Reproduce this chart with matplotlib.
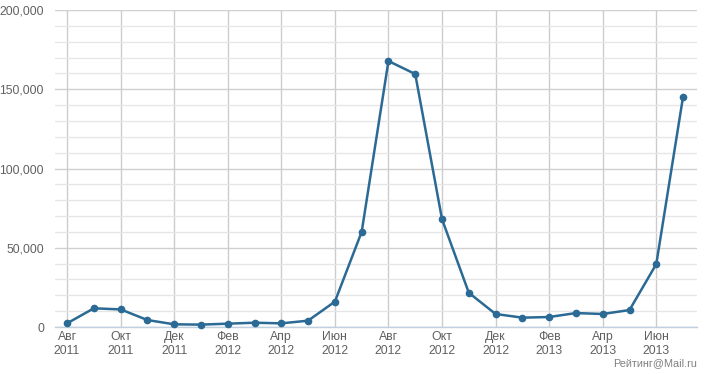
import matplotlib
matplotlib.use("Agg")
import matplotlib.pyplot as plt
from matplotlib.ticker import MultipleLocator, FuncFormatter

plt.rcParams['font.family'] = ['Liberation Sans', 'DejaVu Sans']

months = ["Авг\n2011", "Сен\n2011", "Окт\n2011", "Ноя\n2011", "Дек\n2011", "Янв\n2012",
          "Фев\n2012", "Мар\n2012", "Апр\n2012", "Май\n2012", "Июн\n2012", "Июл\n2012",
          "Авг\n2012", "Сен\n2012", "Окт\n2012", "Ноя\n2012", "Дек\n2012", "Янв\n2013",
          "Фев\n2013", "Мар\n2013", "Апр\n2013", "Май\n2013", "Июн\n2013", "Июл\n2013"]
values = [2300, 11800, 11100, 4400, 1700, 1500, 2100, 2700, 2300, 4000, 16000, 60000,
          167800, 159600, 68000, 21600, 8200, 5900, 6300, 8800, 8200, 10700, 39700, 145300]
watermark = "Рейтинг@Mail.ru"

W, H = 721, 374
fig = plt.figure(figsize=(W/100, H/100), dpi=100)
l, r, t, b = 55, 697, 10, 327
ax = fig.add_axes([l/W, 1-b/H, (r-l)/W, (b-t)/H])

x = list(range(len(values)))
ax.set_xlim(-0.45, 23.52)
ax.set_ylim(0, 200000)

ax.yaxis.set_major_locator(MultipleLocator(50000))
ax.yaxis.set_minor_locator(MultipleLocator(10000))
ax.yaxis.set_major_formatter(FuncFormatter(lambda v, p: f"{int(v):,}"))
ax.set_xticks(x[::2])
ax.set_xticklabels(months[::2])

ax.grid(True, which="minor", axis="y", color="#e6e6e6", lw=1)
ax.grid(True, which="major", axis="y", color="#d0d0d0", lw=1)
ax.grid(True, which="major", axis="x", color="#cccccc", lw=1)
ax.set_axisbelow(True)

for s in ["top", "right", "left"]:
    ax.spines[s].set_visible(False)
ax.spines["bottom"].set_color("#c0d0e0")
ax.spines["bottom"].set_linewidth(1)

ax.tick_params(axis="both", which="both", length=0, colors="#606060", labelsize=8.8)
ax.tick_params(axis="y", pad=8)
ax.tick_params(axis="x", pad=3)
for lab in ax.get_xticklabels():
    lab.set_linespacing(1.25)

ax.plot(x, values, color="#2a6a94", lw=1.8, marker="o", ms=4.5, zorder=3, clip_on=False)

fig.text(697/W, 1-363/H, watermark, ha="right", va="center", fontsize=7.8, color="#808080")

fig.savefig("out.png", dpi=100, facecolor="white")
